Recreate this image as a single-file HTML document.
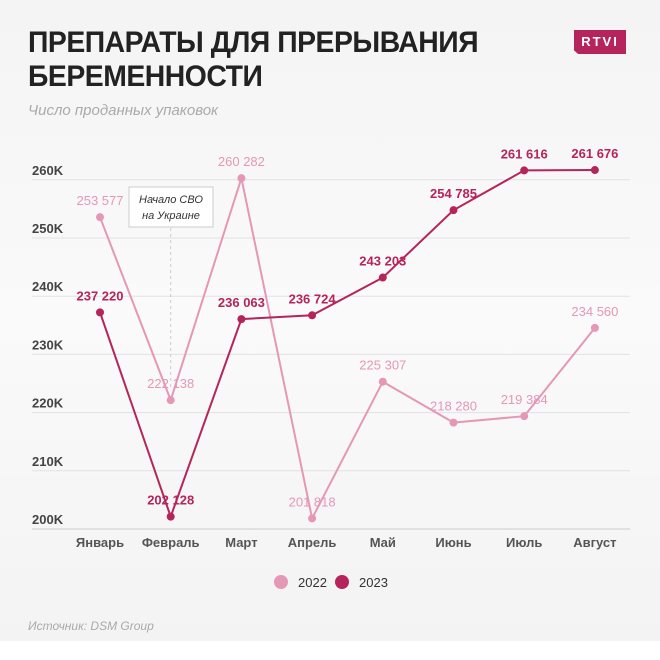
<!DOCTYPE html>
<html><head><meta charset="utf-8"><style>
body{margin:0;width:660px;height:660px;background:#fff;font-family:"Liberation Sans",sans-serif;overflow:hidden}
#bg{position:absolute;left:0;top:0;width:660px;height:641px;background:linear-gradient(180deg,#f4f4f4,#fafafa 50%,#f3f3f3)}
.t{position:absolute;left:28px;top:26px;font-size:30px;font-weight:bold;color:#222;line-height:34px;letter-spacing:-0.5px;transform:scaleX(0.945);transform-origin:left}
</style></head><body>
<div id="bg"></div>
<div class="t">ПРЕПАРАТЫ ДЛЯ ПРЕРЫВАНИЯ<br>БЕРЕМЕННОСТИ</div>
<div style="position:absolute;left:574px;top:30px;width:52px;height:24px;background:#b5245a;color:#fff;font-size:13px;font-weight:bold;letter-spacing:2px;text-align:center;line-height:24px;clip-path:polygon(0 0,100% 0,100% 100%,8% 100%,0 85%)">RTVI</div>
<div style="position:absolute;left:28px;top:102px;font-size:15px;font-style:italic;color:#aaa">Число проданных упаковок</div>
<svg id="c" width="660" height="660" style="position:absolute;left:0;top:0"></svg>
<div style="position:absolute;left:28px;top:619px;font-size:12px;font-style:italic;color:#aaa">Источник: DSM Group</div>
<script>
const months=["Январь","Февраль","Март","Апрель","Май","Июнь","Июль","Август"];
const s2022=[253577,222138,260282,201818,225307,218280,219384,234560];
const s2023=[237220,202128,236063,236724,243203,254785,261616,261676];
const yTicks=[200000,210000,220000,230000,240000,250000,260000];
const yTickLabels=["200K","210K","220K","230K","240K","250K","260K"];
const c2022="#e597b6",c2023="#b5245a";
const svg=document.getElementById('c');const NS="http://www.w3.org/2000/svg";
const x=i=>100+i*70.7;const y=v=>529-(v-200000)/10000*58.2;
function mk(t,a,p){const e=document.createElementNS(NS,t);for(const k in a)e.setAttribute(k,a[k]);(p||svg).appendChild(e);return e;}
yTicks.forEach((v,i)=>{
const l=mk('line',{x1:32,x2:630,y1:y(v),y2:y(v),stroke:i==0?'#ccc':'#e2e2e2','stroke-width':1});


const t=mk('text',{x:32,y:y(v)-5,'font-size':13,'font-weight':'bold',fill:'#444'});t.textContent=yTickLabels[i];


});
months.forEach((m,i)=>{const t=mk('text',{x:x(i),y:547,'font-size':13,'font-weight':'bold',fill:'#555','text-anchor':'middle'});t.textContent=m;

});
const al=mk('line',{x1:x(1),x2:x(1),y1:228,y2:390,stroke:'#ccc','stroke-dasharray':'3,3'});


const ar=mk('rect',{x:129,y:187,width:84,height:40,fill:'#fff',stroke:'#ccc'});


['Начало СВО','на Украине'].forEach((s,k)=>{const t=mk('text',{x:171,y:203+k*16,'font-size':11,'font-style':'italic',fill:'#333','text-anchor':'middle'});t.textContent=s;

});
const fmt=v=>String(v).replace(/\B(?=(\d{3})+$)/g,' ');
function series(d,col,name){
const p=mk('polyline',{points:d.map((v,i)=>x(i)+','+y(v)).join(' '),fill:'none',stroke:col,'stroke-width':2});


d.forEach((v,i)=>{const c=mk('circle',{cx:x(i),cy:y(v),r:4,fill:col});


const t=mk('text',{x:x(i),y:y(v)-12,'font-size':13,fill:col,'text-anchor':'middle','font-weight':name=='s2023'?'bold':'normal'});t.textContent=fmt(v);

});
}
series(s2022,c2022,'s2022');series(s2023,c2023,'s2023');
[[c2022,'2022',281],[c2023,'2023',342]].forEach(([col,lab,cx])=>{const c=mk('circle',{cx:cx,cy:582,r:7,fill:col});


const t=mk('text',{x:cx+17,y:587,'font-size':13,fill:'#333'});t.textContent=lab;

});
</script>
</body></html>
